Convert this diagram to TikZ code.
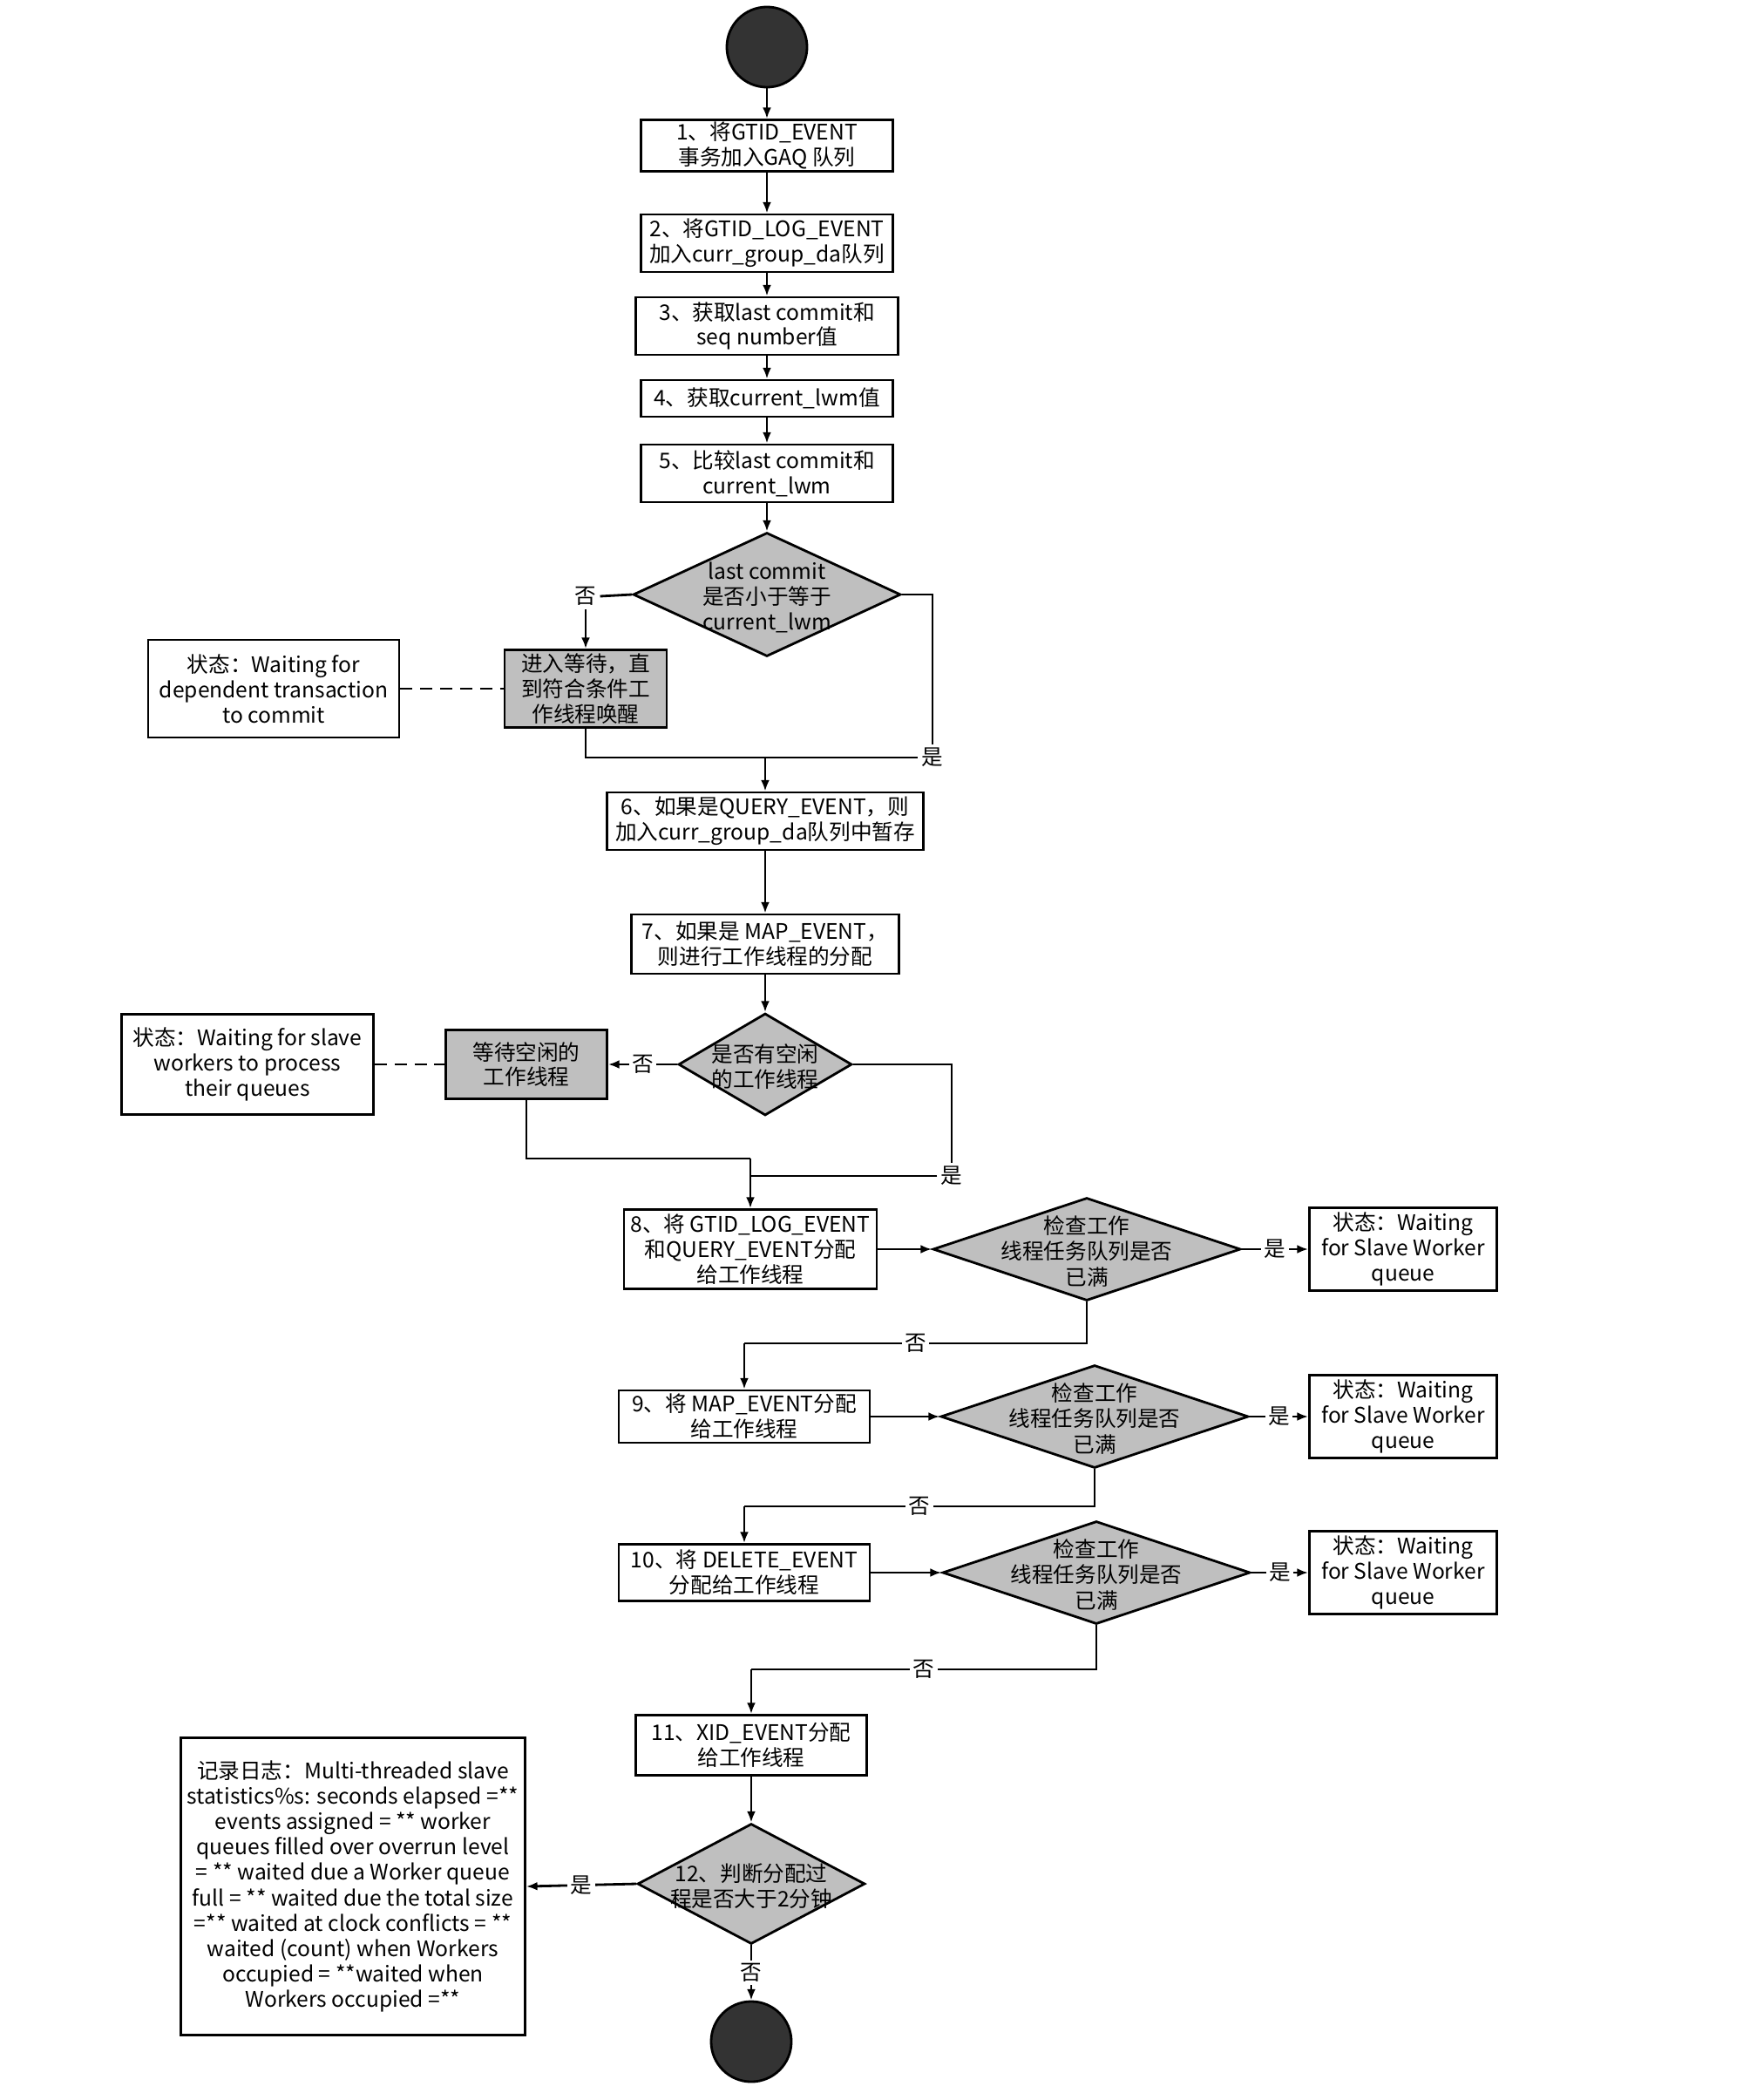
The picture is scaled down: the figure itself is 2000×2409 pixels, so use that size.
\documentclass[tikz,border=0pt]{standalone}
\usepackage{fontspec}
\setmainfont{Noto Sans CJK SC}
\usetikzlibrary{shapes.geometric,arrows.meta}

% text of a decision: it gives the diamond no size of its own
\newcommand{\flattext}[1]{\makebox[0pt]{\raisebox{-3.4pt}[0pt][0pt]{\begin{tabular}{@{}c@{}}#1\end{tabular}}}}

\begin{document}
\begin{tikzpicture}[x=0.01cm, y=-0.01cm, font=\fontsize{7}{8.2}\selectfont]
  \tikzset{
    box_size/.style 2 args={minimum width=#1*0.01cm, minimum height=#2*0.01cm},
    flow_line/.style={line width=0.8pt, draw=black},
    flow_arrow/.style={flow_line, -{Latex[length=3.6pt, width=2.8pt]}},
    link_dashed/.style={line width=0.8pt, dash pattern=on 4pt off 2.5pt},
    step_box/.style={draw, line width=0.8pt, fill=white, inner sep=0pt, align=center},
    wait_box/.style={step_box, fill=black!25},
    check_shape/.style={diamond, draw, line width=0.8pt, fill=black!25, inner sep=0pt},
    end_dot/.style={circle, draw, line width=0.8pt, fill=black!80, minimum size=0.92cm, inner sep=0pt},
    tag/.style={fill=white, inner sep=1pt},
  }
  \path[fill=white, use as bounding box] (0,0) rectangle (2000,2409);

  % main column
  \node[end_dot] (start) at (880,54) {};
  \node[step_box, box_size={289}{59}] (b1) at (880,167) {1、将GTID\_EVENT\\事务加入GAQ 队列};
  \node[step_box, box_size={289}{66}] (b2) at (880,279) {2、将GTID\_LOG\_EVENT\\加入curr\_group\_da队列};
  \node[step_box, box_size={301}{66}] (b3) at (880,374) {3、获取last commit和\\seq number值};
  \node[step_box, box_size={289}{42}] (b4) at (880,457) {4、获取current\_lwm值};
  \node[step_box, box_size={289}{66}] (b5) at (880,543) {5、比较last commit和\\current\_lwm};
  \node[check_shape, box_size={307}{142}] (d1) at (880,682) {\flattext{last commit\\是否小于等于\\current\_lwm}};
  \node[wait_box, box_size={186}{89}] (w1) at (672,790) {进入等待，直\\到符合条件工\\作线程唤醒};
  \node[step_box, box_size={288}{112}] (s1) at (314,790) {状态：Waiting for\\dependent transaction\\to commit};
  \node[tag] (n1) at (672,684) {否};
  \node[tag] (y1) at (1070,869) {是};
  \coordinate (j1) at (878,869);

  \node[step_box, box_size={363}{66}] (b6) at (878,942) {6、如果是QUERY\_EVENT，则\\加入curr\_group\_da队列中暂存};
  \node[step_box, box_size={307}{68}] (b7) at (878,1083) {7、如果是 MAP\_EVENT，\\则进行工作线程的分配};
  \node[check_shape, box_size={199}{117}] (d2) at (878,1221) {\flattext{是否有空闲\\的工作线程}};
  \node[wait_box, box_size={185}{79}] (w2) at (604,1221) {等待空闲的\\工作线程};
  \node[step_box, box_size={289}{115}] (s2) at (284,1221) {状态：Waiting for slave\\workers to process\\their queues};
  \node[tag] (y2) at (1092,1349) {是};
  \coordinate (j2a) at (861,1329);
  \coordinate (j2) at (861,1349);

  \node[step_box, box_size={290}{91}] (b8) at (861,1433) {8、将 GTID\_LOG\_EVENT\\和QUERY\_EVENT分配\\给工作线程};
  \node[step_box, box_size={288}{60}] (b9) at (854,1625) {9、将 MAP\_EVENT分配\\给工作线程};
  \node[step_box, box_size={288}{65}] (b10) at (854,1804) {10、将 DELETE\_EVENT\\分配给工作线程};
  \node[step_box, box_size={265}{69}] (b11) at (862,2002) {11、XID\_EVENT分配\\给工作线程};
  \node[check_shape, box_size={261}{138}] (d6) at (862,2161) {\flattext{12、判断分配过\\程是否大于2分钟}};
  \node[step_box, box_size={395}{341}, font=\fontsize{7}{8.3}\selectfont] (log) at (405,2164)
    {记录日志：Multi-threaded slave\\statistics\%s: seconds elapsed =**\\events assigned = ** worker\\
     queues filled over overrun level\\= ** waited due a Worker queue\\full = ** waited due the total size\\
     =** waited at clock conflicts = **\\waited (count) when Workers\\occupied = **waited when\\Workers occupied =**};
  \node[end_dot] (stop) at (862,2342) {};

  \foreach \u/\v in {start/b1, b1/b2, b2/b3, b3/b4, b4/b5, b5/d1, b6/b7, b7/d2, b11/d6}
    \draw[flow_arrow] (\u.south) -- (\v.north);

  % first wait
  \draw[flow_line] (d1.west) -- (n1.east);
  \draw[flow_arrow] (n1.south) -- (w1.north);
  \draw[link_dashed] (s1.east) -- (w1.west);
  \draw[flow_line] (d1.east) -| (y1.north);
  \draw[flow_line] (w1.south) |- (y1.west);
  \draw[flow_arrow] (j1) -- (b6.north);

  % second wait
  \draw[flow_arrow] (d2.west) -- node[tag] {否} (w2.east);
  \draw[link_dashed] (s2.east) -- (w2.west);
  \draw[flow_line] (w2.south) |- (j2a);
  \draw[flow_arrow] (j2a) -- (b8.north);
  \draw[flow_line] (d2.east) -| (y2.north);
  \draw[flow_line] (y2.west) -- (j2);

  % three queue checks
  \foreach \k/\b/\x/\y/\n/\jx/\jy in {
    3/8/1247/1433/9/854/1541,
    4/9/1256/1625/10/854/1728,
    5/10/1258/1804/11/862/1915
  }{
    \node[check_shape, box_size={353}{118}] (d\k) at (\x,\y) {\flattext{检查工作\\线程任务队列是否\\已满}};
    \node[step_box, box_size={215}{95}] (s\k) at (1610,\y) {状态：Waiting\\for Slave Worker\\queue};
    \coordinate (j\k) at (\jx,\jy);
    \draw[flow_arrow] (b\b.east) -- (d\k.west);
    \draw[flow_arrow] (d\k.east) -- node[tag] {是} (s\k.west);
    \draw[flow_line] (d\k.south) |- node[tag, pos=0.75] {否} (j\k);
    \draw[flow_arrow] (j\k) -- (b\n.north);
  }

  % time check
  \draw[flow_arrow] (d6.west) -- node[tag] {是} (log.east);
  \draw[flow_arrow] (d6.south) -- node[tag] {否} (stop.north);
\end{tikzpicture}
\end{document}
